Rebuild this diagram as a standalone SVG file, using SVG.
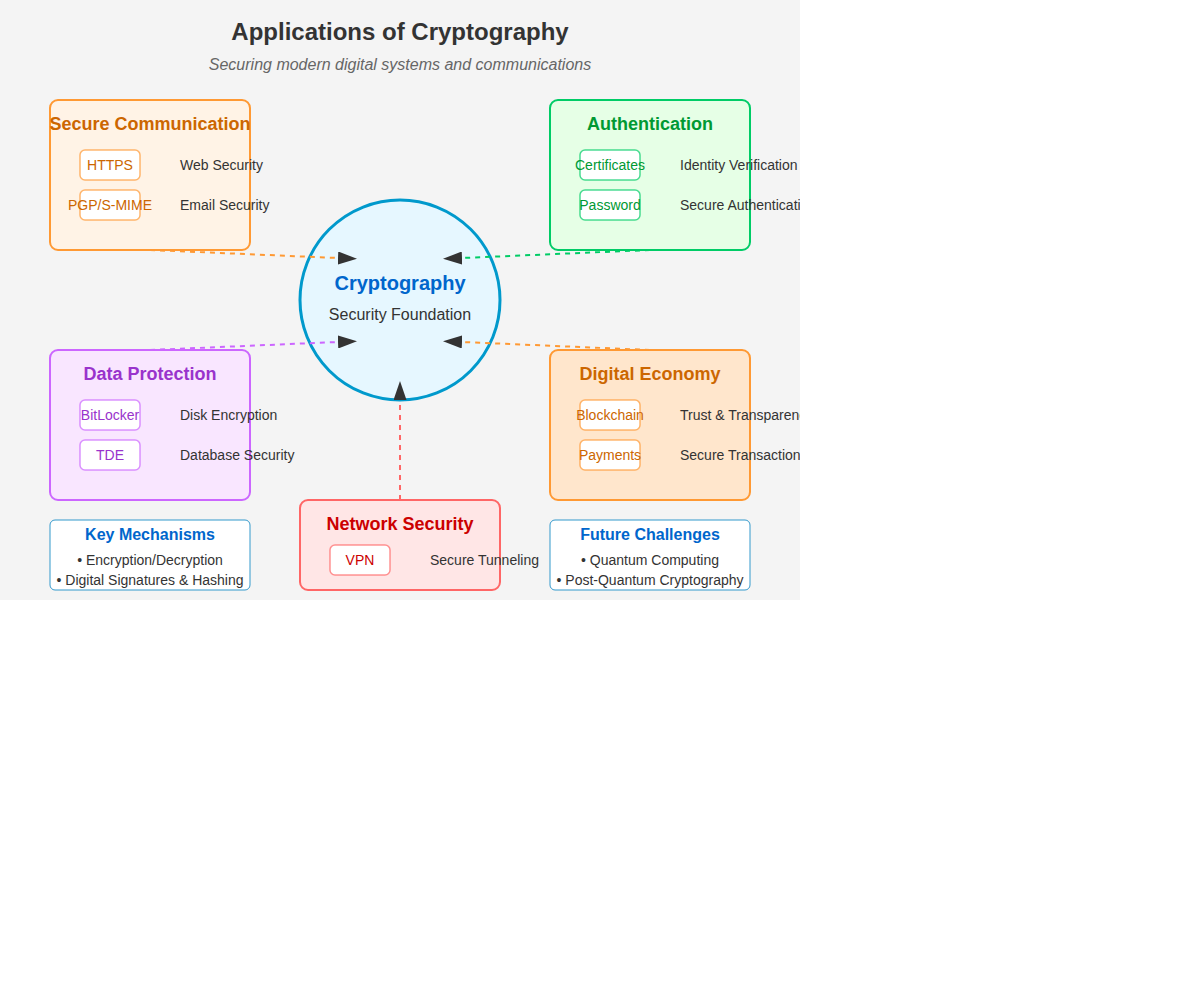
<svg xmlns="http://www.w3.org/2000/svg" width="1200" height="1000" viewBox="0 0 1200 1000">
<defs>
<clipPath id="canvas"><rect x="0" y="0" width="800" height="600"/></clipPath>
<marker id="arrow" markerUnits="userSpaceOnUse" markerWidth="19" markerHeight="13" refX="0" refY="6.5" orient="auto">
<path d="M0,0 L19,6.5 L0,13 Z" fill="#333"/>
</marker>
<style>
text{font-family:"Liberation Sans",Arial,sans-serif}
.title{font-size:24px;font-weight:bold;fill:#333;text-anchor:middle}
.sub{font-size:16px;font-style:italic;fill:#666;text-anchor:middle}
.box{stroke-width:2}
.bt{font-size:18px;font-weight:bold;text-anchor:middle}
.item{fill:#fff;stroke-width:1.5;stroke-opacity:0.7}
.it{font-size:14px;text-anchor:middle}
.desc{font-size:14px;fill:#333}
.conn{stroke-width:2;stroke-dasharray:5,5;fill:none}
.info{fill:#fff;stroke:#3399cc;stroke-width:1}
.ih{font-size:16px;font-weight:bold;fill:#0066cc;text-anchor:middle}
.il{font-size:14px;fill:#333;text-anchor:middle}
</style>
</defs>
<g clip-path="url(#canvas)">
<rect x="0" y="0" width="800" height="600" fill="#f4f4f4"/>
<text class="title" x="400" y="40">Applications of Cryptography</text>
<text class="sub" x="400" y="70">Securing modern digital systems and communications</text>

<g id="secure-communication">
<rect class="box" x="50" y="100" width="200" height="150" rx="8" fill="#fff3e6" stroke="#ff9933"/>
<text class="bt" x="150" y="130" fill="#cc6600">Secure Communication</text>
<rect class="item" x="80" y="150" width="60" height="30" rx="5" stroke="#ff9933"/>
<text class="it" x="110" y="170" fill="#cc6600">HTTPS</text>
<text class="desc" x="180" y="170">Web Security</text>
<rect class="item" x="80" y="190" width="60" height="30" rx="5" stroke="#ff9933"/>
<text class="it" x="110" y="210" fill="#cc6600">PGP/S-MIME</text>
<text class="desc" x="180" y="210">Email Security</text>
</g>

<g id="authentication">
<rect class="box" x="550" y="100" width="200" height="150" rx="8" fill="#e6ffe6" stroke="#00cc66"/>
<text class="bt" x="650" y="130" fill="#009933">Authentication</text>
<rect class="item" x="580" y="150" width="60" height="30" rx="5" stroke="#00cc66"/>
<text class="it" x="610" y="170" fill="#009933">Certificates</text>
<text class="desc" x="680" y="170">Identity Verification</text>
<rect class="item" x="580" y="190" width="60" height="30" rx="5" stroke="#00cc66"/>
<text class="it" x="610" y="210" fill="#009933">Password</text>
<text class="desc" x="680" y="210">Secure Authentication</text>
</g>

<g id="cryptography">
<circle cx="400" cy="300" r="100" fill="#e6f7ff" stroke="#0099cc" stroke-width="3"/>
<text x="400" y="290" font-size="20" font-weight="bold" fill="#0066cc" text-anchor="middle">Cryptography</text>
<text x="400" y="320" font-size="16" fill="#333" text-anchor="middle">Security Foundation</text>
</g>

<g id="data-protection">
<rect class="box" x="50" y="350" width="200" height="150" rx="8" fill="#f9e6ff" stroke="#cc66ff"/>
<text class="bt" x="150" y="380" fill="#9933cc">Data Protection</text>
<rect class="item" x="80" y="400" width="60" height="30" rx="5" stroke="#cc66ff"/>
<text class="it" x="110" y="420" fill="#9933cc">BitLocker</text>
<text class="desc" x="180" y="420">Disk Encryption</text>
<rect class="item" x="80" y="440" width="60" height="30" rx="5" stroke="#cc66ff"/>
<text class="it" x="110" y="460" fill="#9933cc">TDE</text>
<text class="desc" x="180" y="460">Database Security</text>
</g>

<g id="digital-economy">
<rect class="box" x="550" y="350" width="200" height="150" rx="8" fill="#ffe6cc" stroke="#ff9933"/>
<text class="bt" x="650" y="380" fill="#cc6600">Digital Economy</text>
<rect class="item" x="580" y="400" width="60" height="30" rx="5" stroke="#ff9933"/>
<text class="it" x="610" y="420" fill="#cc6600">Blockchain</text>
<text class="desc" x="680" y="420">Trust &amp; Transparency</text>
<rect class="item" x="580" y="440" width="60" height="30" rx="5" stroke="#ff9933"/>
<text class="it" x="610" y="460" fill="#cc6600">Payments</text>
<text class="desc" x="680" y="460">Secure Transactions</text>
</g>

<g id="network-security">
<rect class="box" x="300" y="500" width="200" height="90" rx="8" fill="#ffe6e6" stroke="#ff6666"/>
<text class="bt" x="400" y="530" fill="#cc0000">Network Security</text>
<rect class="item" x="330" y="545" width="60" height="30" rx="5" stroke="#ff6666"/>
<text class="it" x="360" y="565" fill="#cc0000">VPN</text>
<text class="desc" x="430" y="565">Secure Tunneling</text>
</g>

<g id="key-mechanisms">
<rect class="info" x="50" y="520" width="200" height="70" rx="5"/>
<text class="ih" x="150" y="540">Key Mechanisms</text>
<text class="il" x="150" y="565">• Encryption/Decryption</text>
<text class="il" x="150" y="585">• Digital Signatures &amp; Hashing</text>
</g>

<g id="future-challenges">
<rect class="info" x="550" y="520" width="200" height="70" rx="5"/>
<text class="ih" x="650" y="540">Future Challenges</text>
<text class="il" x="650" y="565">• Quantum Computing</text>
<text class="il" x="650" y="585">• Post-Quantum Cryptography</text>
</g>

<g id="connectors">
<line class="conn" x1="150" y1="250" x2="338" y2="258" stroke="#ff9933" marker-end="url(#arrow)"/>
<line class="conn" x1="650" y1="250" x2="462" y2="258" stroke="#00cc66" marker-end="url(#arrow)"/>
<line class="conn" x1="150" y1="350" x2="338" y2="342" stroke="#cc66ff" marker-end="url(#arrow)"/>
<line class="conn" x1="650" y1="350" x2="462" y2="342" stroke="#ff9933" marker-end="url(#arrow)"/>
<line class="conn" x1="400" y1="500" x2="400" y2="400" stroke="#ff6666" marker-end="url(#arrow)"/>
</g>
</g>
</svg>
